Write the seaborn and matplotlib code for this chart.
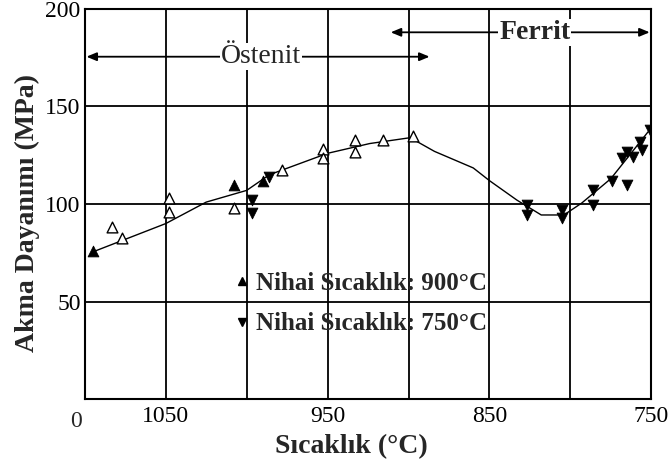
import seaborn as sns
import matplotlib.pyplot as plt
from matplotlib.lines import Line2D

# --- Datos ---
curve_x = [1095, 1050, 1025, 1000, 986, 950, 924, 899, 884, 860, 850, 833, 818, 804, 793, 775, 752]
curve_y = [75.5, 90, 101, 107, 115, 126, 131, 134, 127, 118.5, 112, 102, 94.4, 94.4, 100.5, 113, 137]

open_x = [1083, 1077, 1048, 1048, 1008, 978, 953, 953, 933, 933, 916, 897]
open_y = [88, 82.5, 103, 96, 98, 117.5, 128, 123.6, 133, 126.7, 133, 135]

final900_x = [1095, 1008, 990]
final900_y = [76, 110, 112]

final750_x = [997, 997, 986, 827, 827, 805, 805, 786, 786, 774, 765, 768, 765, 761, 757, 756, 751]
final750_y = [102, 95.5, 114, 99.5, 94.4, 97, 92.8, 107, 99.5, 112, 110, 123.6, 126.7, 124, 132, 127.7, 138]

x_ticks = [1100, 1050, 1000, 950, 900, 850, 800, 750]
x_ticklabels = ["", "1050", "", "950", "", "850", "", "750"]
y_ticks = [0, 50, 100, 150, 200]
y_ticklabels = ["", "50", "100", "150", "200"]

legend_labels = ["Nihai Sıcaklık: 900°C", "Nihai Sıcaklık: 750°C"]

sns.set_style("white")
plt.rcParams["font.family"] = ["Liberation Serif", "DejaVu Serif"]

fig = plt.figure(figsize=(6.68, 4.68), dpi=100)
ax = fig.add_axes([0.127, 0.147, 0.848, 0.834])

# curva de ajuste
sns.lineplot(x=curve_x, y=curve_y, sort=False, color="black", linewidth=1.0, ax=ax)

# puntos
sns.scatterplot(x=open_x, y=open_y, marker="^", s=60, facecolor="white",
                edgecolor="black", linewidth=1.0, ax=ax, zorder=4)
sns.scatterplot(x=final900_x, y=final900_y, marker="^", s=60, color="black",
                edgecolor="black", ax=ax, zorder=4)
sns.scatterplot(x=final750_x, y=final750_y, marker="v", s=60, color="black",
                edgecolor="black", ax=ax, zorder=4)

ax.set_xlim(1100, 750)
ax.set_ylim(0, 200)
ax.set_xticks(x_ticks)
ax.set_xticklabels(x_ticklabels)
ax.set_yticks(y_ticks)
ax.set_yticklabels(y_ticklabels)
ax.tick_params(length=0, labelsize=17, colors="black")
ax.tick_params(axis="y", pad=3)
ax.tick_params(axis="x", pad=5)
ax.grid(True, color="black", linewidth=1.3)
for sp in ax.spines.values():
    sp.set_color("black")
    sp.set_linewidth(1.5)

ax.text(-0.015, -0.03, "0", transform=ax.transAxes, ha="center", va="top", fontsize=17)

ax.set_xlabel("Sıcaklık (°C)", fontsize=20, fontweight="bold", labelpad=2)
ax.xaxis.set_label_coords(0.47, -0.09)
ax.set_ylabel("Akma Dayanımı (MPa)", fontsize=20, fontweight="bold", labelpad=4)
ax.yaxis.set_label_coords(-0.08, 0.477)

# bölgeler
arrow = dict(arrowstyle="<|-|>,head_length=0.6,head_width=0.25", color="black", lw=1.3,
             shrinkA=0, shrinkB=0)
ax.annotate("", xy=(1099, 175.5), xytext=(887, 175.5), arrowprops=arrow)
ax.text(991, 175.5, "Östenit", ha="center", va="center", fontsize=20,
        bbox=dict(facecolor="white", edgecolor="none", pad=0.5))
ax.annotate("", xy=(911, 188), xytext=(751, 188), arrowprops=arrow)
ax.text(822, 188, "Ferrit", ha="center", va="center", fontsize=20, fontweight="bold",
        bbox=dict(facecolor="white", edgecolor="none", pad=0.5))

# leyenda
handles = [Line2D([], [], marker="^", color="black", linestyle="none", markersize=6),
           Line2D([], [], marker="v", color="black", linestyle="none", markersize=6)]
ax.legend(handles, legend_labels, loc="center left", bbox_to_anchor=(0.236, 0.245),
          frameon=False, prop={"size": 18, "weight": "bold"}, handletextpad=0.1,
          handlelength=0.9, labelspacing=0.7, borderpad=0)

fig.savefig("out.png", dpi=100)
